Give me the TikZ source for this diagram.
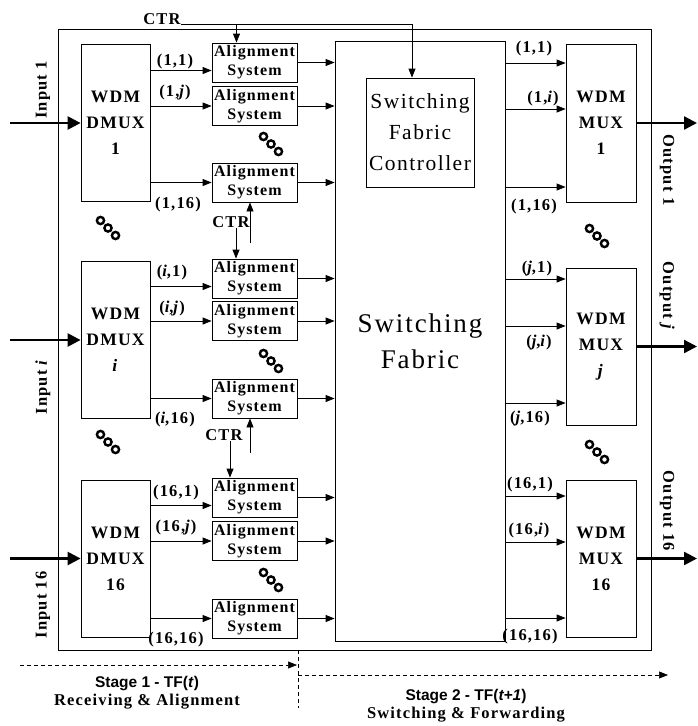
\documentclass[tikz,border=0pt]{standalone}
\usepackage{fontspec}
\setmainfont{Liberation Serif}[LetterSpace=7]
\newfontfamily\stagefont{Liberation Sans}
\usetikzlibrary{arrows.meta}

\begin{document}
\begin{tikzpicture}[x=1pt,y=-1pt,line width=0.8pt,
  box/.style={draw,inner sep=0pt,align=center,minimum width=69pt,minimum height=157pt,font=\bfseries\fontsize{17.5}{26}\selectfont},
  alnbox/.style={draw,inner sep=0pt,align=center,minimum width=85pt,minimum height=39pt,font=\bfseries\fontsize{16}{19}\selectfont},
  port/.style={inner sep=0pt,font=\bfseries\fontsize{16.5}{18}\selectfont},
  stage/.style={inner sep=0pt,font=\stagefont\bfseries\fontsize{15.5}{17}\selectfont},
  arr/.style={-{Triangle[length=9pt,width=7pt]}},
  fatarr/.style={line width=2.4pt,-{Triangle[length=13pt,width=13pt]}},
  dasharr/.style={dash pattern=on 4pt off 3pt,line width=0.6pt,-{Triangle[length=9pt,width=7pt]}}]
\useasboundingbox (0,0) rectangle (697,726);
\coordinate (lim) at (10,0);
\coordinate (rim) at (697,0);
% frame
\draw (58,29) rectangle (651,650);
% demultiplexers
\node[box] (d1) at (115.5,123) {WDM\\DMUX\\1};
\node[box] (di) at (115.5,340) {WDM\\DMUX\\\textit{i}};
\node[box] (d16) at (115.5,558.5) {WDM\\DMUX\\16};
% alignment systems
\foreach \n/\y in {a11/62.5,a12/106,a13/182.5,ai1/278.5,ai2/321,ai3/398.5,a161/497.5,a162/541,a163/618.5}
  \node[alnbox] (\n) at (254.5,\y) {Alignment\\System};
% switching fabric
\node[draw,minimum width=170pt,minimum height=600pt,align=center,font=\fontsize{27}{36}\selectfont] (sf) at (420,341) {Switching\\Fabric};
\node[draw,minimum width=108pt,minimum height=109pt,inner sep=0pt,align=center,font=\fontsize{21.5}{31}\selectfont] (ctrl) at (420,132.5) {Switching\\Fabric\\Controller};
% multiplexers
\node[box,minimum width=70pt,minimum height=158pt] (m1) at (601,123) {WDM\\MUX\\1};
\node[box,minimum width=70pt] (mj) at (601,346.5) {WDM\\MUX\\\textit{j}};
\node[box,minimum width=70pt] (m16) at (601,558.5) {WDM\\MUX\\16};
% inputs and outputs
\foreach \d in {d1,di,d16}
  \draw[fatarr] (lim |- \d.west) -- (\d.west);
\foreach \m in {m1,mj,m16}
  \draw[fatarr] (\m.east) -- (\m.east -| rim);
\node[port,rotate=90] (in1) at (43,90) {Input 1};
\node[port,rotate=90] (ini) at (43,387) {Input \textit{i}};
\node[port,rotate=90] (in16) at (43,605) {Input 16};
\node[port,rotate=-90] (out1) at (667,170) {Output 1};
\node[port,rotate=-90] (outj) at (667,296) {Output \textit{j}};
\node[port,rotate=-90] (out16) at (667,511) {Output 16};
% demux -> alignment
\foreach \d/\a in {d1/a11,di/ai1,d16/a161}
  \draw[arr] ([yshift=-8pt]\a.west -| \d.east) -- ([yshift=-8pt]\a.west);
\foreach \d/\a in {d1/a12,d1/a13,di/ai2,di/ai3,d16/a162,d16/a163}
  \draw[arr] (\a.west -| \d.east) -- (\a.west);
% alignment -> fabric
\foreach \a in {a11,a12,a13,ai1,ai2,ai3,a161,a162,a163}
  \draw[arr] (\a.east) -- (\a.east -| sf.west);
% fabric -> mux
\foreach \m/\y in {m1/63,m1/109,m1/187,mj/279,mj/326,mj/403,m16/496,m16/542,m16/618}
  \draw[arr] (sf.east |- 0,\y) -- (\m.west |- 0,\y);
% wavelength labels
\node[port] (l11) at (175,62) {(1,1)};
\node[port] (l1j) at (175,93) {(1,\textit{j})};
\node[port] (l116) at (178,205) {(1,16)};
\node[port] (li1) at (172,273) {(\textit{i},1)};
\node[port] (lij) at (172,309) {(\textit{i},\textit{j})};
\node[port] (li16) at (175,420) {(\textit{i},16)};
\node[port] (l161) at (176,493) {(16,1)};
\node[port] (l16j) at (176,528) {(16,\textit{j})};
\node[port] (l1616) at (176,640) {(16,16)};
\node[port] (r11) at (534,49) {(1,1)};
\node[port] (r1i) at (543,99) {(1,\textit{i})};
\node[port] (r116) at (534,207) {(1,16)};
\node[port] (rj1) at (537,269) {(\textit{j},1)};
\node[port] (rji) at (539,343) {(\textit{j},\textit{i})};
\node[port] (rj16) at (530,419) {(\textit{j},16)};
\node[port] (r161) at (530,485) {(16,1)};
\node[port] (r16i) at (529,531) {(16,\textit{i})};
\node[port] (r1616) at (530,637) {(16,16)};
% control lines
\node[port] (ctr0) at (162,19) {CTR};
\draw[arr] (ctr0.base east) -| ([xshift=-8pt]ctrl.north);
\draw[arr] ([xshift=-18pt]a11.north |- ctr0.base) -- ([xshift=-18pt]a11.north);
\node[port] (ctr1) at (231,222) {CTR};
\draw[arr] ([xshift=5pt]ctr1.south) -- ([xshift=5pt]ctr1.south |- ai1.north);
\coordinate (up1) at (250,243);
\draw[arr] (up1) -- (up1 |- a13.south);
\node[port] (ctr2) at (224,435) {CTR};
\draw[arr] ([xshift=6pt]ctr2.south) -- ([xshift=6pt]ctr2.south |- a161.north);
\coordinate (up2) at (250,453);
\draw[arr] (up2) -- (up2 |- ai3.south);
% dots
\foreach \cx/\cy in {271/144,108/228,271/361,108/442,271/580,597/236,597/452}
  \foreach \k in {-1,0,1}
    \draw[line width=2.4pt] (\cx+7.5*\k,\cy+7.5*\k) circle (3.6pt);
% stages
\coordinate (s1a) at (20,665);
\coordinate (s1b) at (297,665);
\coordinate (s2a) at (298,675);
\coordinate (s2b) at (668,675);
\coordinate (va) at (298,650);
\coordinate (vb) at (298,708);
\draw[dasharr] (s1a) -- (s1b);
\draw[dasharr] (s2a) -- (s2b);
\draw[dash pattern=on 4pt off 3pt,line width=0.6pt] (va) -- (vb);
\node[stage] (st1) at (147,684) {Stage 1 - TF(\textit{t})};
\node[port] (rc1) at (147,702) {Receiving \& Alignment};
\node[stage] (st2) at (466,697) {Stage 2 - TF(\textit{t+1})};
\node[port] (sw2) at (466,715) {Switching \& Forwarding};
\end{tikzpicture}
\end{document}
